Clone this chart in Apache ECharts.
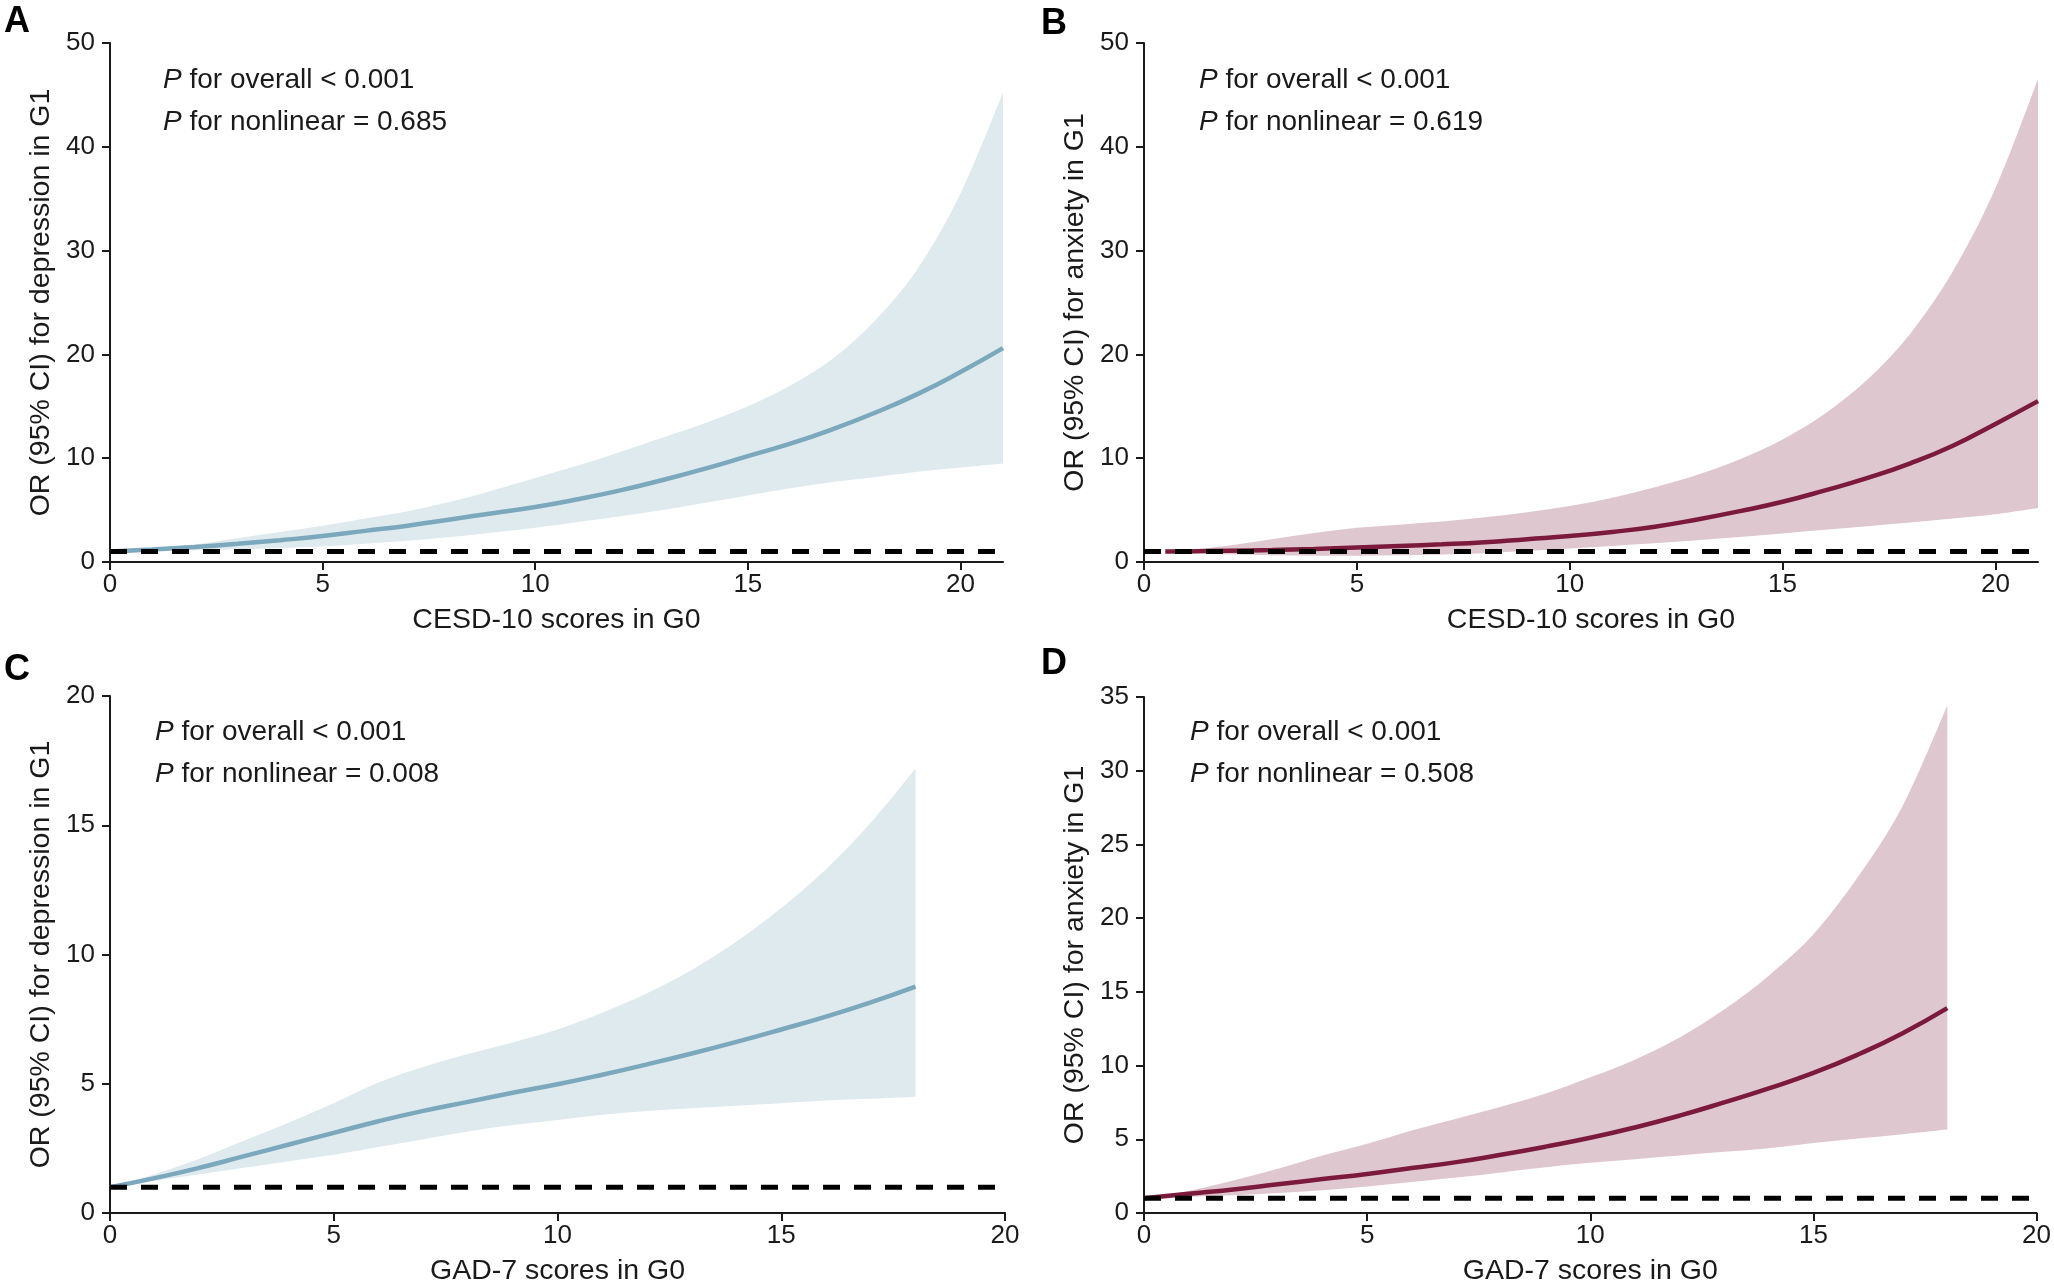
<!DOCTYPE html>
<html><head><meta charset="utf-8">
<script src="https://cdn.jsdelivr.net/npm/echarts@6/dist/echarts.min.js"></script>
<style>html,body{margin:0;padding:0;background:#fff}#c{width:2054px;height:1287px}</style>
</head><body><div id="c"></div>
<script>
// ---------- data ----------
const xCesdA = [0,1,2,3,4,5,6,7,8,9,10,11,12,13,14,15,16,17,18,19,20,21];
const lineA = [1.0,1.2,1.45,1.75,2.1,2.5,3.0,3.5,4.1,4.7,5.3,6.05,6.9,7.9,9.0,10.2,11.4,12.8,14.4,16.2,18.3,20.6];
const upA   = [1.0,1.3,1.7,2.3,2.9,3.5,4.2,4.9,5.8,6.9,8.1,9.3,10.6,12.0,13.4,15.0,17.0,19.6,23.3,28.3,35.5,45.2];
const loA   = [1.0,1.05,1.12,1.22,1.35,1.5,1.75,2.05,2.4,2.85,3.3,3.85,4.4,5.0,5.7,6.4,7.1,7.7,8.2,8.7,9.1,9.5];

const xCesdB = [0.5,1,2,3,4,5,6,7,8,9,10,11,12,13,14,15,16,17,18,19,20,21];
const lineB = [1.0,1.02,1.08,1.15,1.25,1.4,1.55,1.7,1.9,2.2,2.5,2.9,3.4,4.1,4.9,5.8,6.9,8.1,9.5,11.2,13.3,15.5];
const upB   = [1.0,1.15,1.6,2.2,2.8,3.3,3.6,3.9,4.3,4.8,5.4,6.2,7.2,8.4,9.9,11.8,14.3,17.6,22.0,28.0,36.0,46.5];
const loB   = [1.0,0.9,0.75,0.65,0.6,0.6,0.65,0.72,0.85,1.05,1.3,1.55,1.8,2.1,2.4,2.75,3.1,3.45,3.8,4.2,4.6,5.2];

const xGad = [0,1,2,3,4,5,6,7,8,9,10,11,12,13,14,15,16,17,18];
const lineC = [1.0,1.35,1.75,2.2,2.65,3.1,3.55,3.95,4.3,4.65,4.98,5.35,5.75,6.17,6.62,7.1,7.6,8.15,8.76];
const upC   = [1.0,1.5,2.1,2.8,3.5,4.25,5.05,5.65,6.15,6.6,7.1,7.75,8.5,9.4,10.5,11.8,13.3,15.1,17.2];
const loC   = [1.0,1.25,1.5,1.75,2.0,2.25,2.55,2.85,3.15,3.4,3.6,3.8,3.95,4.05,4.15,4.25,4.35,4.42,4.5];

const lineD = [1.0,1.3,1.6,1.95,2.3,2.65,3.05,3.45,3.95,4.5,5.1,5.8,6.6,7.5,8.45,9.5,10.75,12.2,13.9];
const upD   = [1.0,1.5,2.2,3.0,3.9,4.7,5.6,6.4,7.2,8.1,9.2,10.4,11.9,13.8,16.1,18.9,22.8,27.6,34.4];
const loD   = [1.0,1.1,1.2,1.35,1.55,1.8,2.1,2.4,2.75,3.1,3.4,3.65,3.9,4.15,4.4,4.75,5.05,5.35,5.67];

const refOR = 1;
const xMaxCesd = 21, xMaxGad = 20;
const xTicks = [0,5,10,15,20];
const yMaxAB = 50, yStepAB = 10;
const yMaxC = 20, yStepC = 5;
const yMaxD = 35, yStepD = 5;

const xNames = ['CESD-10 scores in G0','CESD-10 scores in G0','GAD-7 scores in G0','GAD-7 scores in G0'];
const yNames = ['OR (95% CI) for depression in G1','OR (95% CI) for anxiety in G1','OR (95% CI) for depression in G1','OR (95% CI) for anxiety in G1'];
const panelLetters = ['A','B','C','D'];
const pOverall = ['< 0.001','< 0.001','< 0.001','< 0.001'];
const pNonlinear = ['= 0.685','= 0.619','= 0.008','= 0.508'];

// ---------- styling ----------
const FF = 'Liberation Sans, Arial, Helvetica, sans-serif';
const AX = '#1a1a1a';
const BLUE = '#7ba8bc', BLUE_BAND = '#dfeaee';
const RED = '#7c1a3d', RED_BAND = '#dfc7cf';

const panels = [
  {xs: xCesdA, line: lineA, up: upA, lo: loA, xMax: xMaxCesd, yMax: yMaxAB, yStep: yStepAB, c: BLUE, band: BLUE_BAND},
  {xs: xCesdB, line: lineB, up: upB, lo: loB, xMax: xMaxCesd, yMax: yMaxAB, yStep: yStepAB, c: RED, band: RED_BAND},
  {xs: xGad, line: lineC, up: upC, lo: loC, xMax: xMaxGad, yMax: yMaxC, yStep: yStepC, c: BLUE, band: BLUE_BAND},
  {xs: xGad, line: lineD, up: upD, lo: loD, xMax: xMaxGad, yMax: yMaxD, yStep: yStepD, c: RED, band: RED_BAND}
];

const grids = [
  {left: 110, top: 43, width: 893, height: 519},
  {left: 1144, top: 43, width: 894, height: 519},
  {left: 110, top: 696, width: 895, height: 519},
  {left: 1144, top: 697, width: 893, height: 518}
];

// Catmull-Rom style smoothing of already-projected pixel points
function curveTo(pts) {
  let d = '';
  const n = pts.length;
  for (let i = 0; i < n - 1; i++) {
    const p0 = pts[Math.max(i - 1, 0)], p1 = pts[i], p2 = pts[i + 1], p3 = pts[Math.min(i + 2, n - 1)];
    const c1x = p1[0] + (p2[0] - p0[0]) / 6, c1y = p1[1] + (p2[1] - p0[1]) / 6;
    const c2x = p2[0] - (p3[0] - p1[0]) / 6, c2y = p2[1] - (p3[1] - p1[1]) / 6;
    d += ' C' + c1x + ' ' + c1y + ' ' + c2x + ' ' + c2y + ' ' + p2[0] + ' ' + p2[1];
  }
  return d;
}

const xAxes = [], yAxes = [], series = [], graphics = [];
panels.forEach((p, i) => {
  xAxes.push({
    type: 'value', gridIndex: i, min: 0, max: p.xMax,
    axisLine: {show: true, onZero: false, lineStyle: {color: AX, width: 2}},
    axisTick: {show: true, length: 8, lineStyle: {color: AX, width: 2}, customValues: xTicks},
    axisLabel: {customValues: xTicks, fontSize: 26, color: AX, fontFamily: FF, margin: 10},
    splitLine: {show: false},
    name: xNames[i], nameLocation: 'middle', nameGap: 44,
    nameTextStyle: {fontSize: 28.5, color: AX, fontFamily: FF}
  });
  yAxes.push({
    type: 'value', gridIndex: i, min: 0, max: p.yMax, interval: p.yStep,
    axisLine: {show: true, onZero: false, lineStyle: {color: AX, width: 2}},
    axisTick: {show: true, length: 8, lineStyle: {color: AX, width: 2}},
    axisLabel: {fontSize: 26, color: AX, fontFamily: FF, margin: 15},
    splitLine: {show: false},
    name: yNames[i], nameLocation: 'middle', nameGap: 54,
    nameTextStyle: {fontSize: 28.5, color: AX, fontFamily: FF}
  });
  const xs = p.xs, lo = p.lo, up = p.up, band = p.band;
  series.push({
    type: 'custom', xAxisIndex: i, yAxisIndex: i, z: 1, silent: true,
    data: xs.map((x, k) => [x, lo[k], up[k]]),
    encode: {x: 0, y: [1, 2]},
    renderItem: function (params, api) {
      if (params.dataIndex !== 0) return null;
      const top = [], bot = [];
      for (let k = 0; k < xs.length; k++) top.push(api.coord([xs[k], up[k]]));
      for (let k = xs.length - 1; k >= 0; k--) bot.push(api.coord([xs[k], lo[k]]));
      const d = 'M' + top[0][0] + ' ' + top[0][1] + curveTo(top) +
        ' L' + bot[0][0] + ' ' + bot[0][1] + curveTo(bot) + ' Z';
      return {type: 'path', shape: {pathData: d}, style: {fill: band, stroke: null}};
    }
  });
  series.push({
    type: 'line', xAxisIndex: i, yAxisIndex: i, z: 3, silent: true,
    data: xs.map((x, k) => [x, p.line[k]]),
    smooth: 0.5, symbol: 'none',
    lineStyle: {color: p.c, width: 4.5}
  });
  series.push({
    type: 'line', xAxisIndex: i, yAxisIndex: i, z: 4, silent: true,
    data: [[0, refOR], [p.xMax, refOR]], symbol: 'none',
    lineStyle: {color: '#000', width: 5, type: [17, 14]}
  });
});

const letterPos = [[4, 4], [1041, 6], [4, 652], [1041, 646]];
const textPos = [[163, 80, 122], [1199, 80, 122], [155, 732, 774], [1190, 732, 774]];
const FS = 28;
panels.forEach((p, i) => {
  graphics.push({type: 'text', x: letterPos[i][0], y: letterPos[i][1],
    style: {text: panelLetters[i], fill: '#000', font: 'bold 36px ' + FF}});
  const rich = {i: {fontStyle: 'italic', fontSize: FS, fontFamily: FF, fill: AX}, n: {fontSize: FS, fontFamily: FF, fill: AX}};
  graphics.push({type: 'text', x: textPos[i][0], y: textPos[i][1],
    style: {text: '{i|P}{n| for overall ' + pOverall[i] + '}', rich: rich, verticalAlign: 'middle', fontSize: FS, fontFamily: FF}});
  graphics.push({type: 'text', x: textPos[i][0], y: textPos[i][2],
    style: {text: '{i|P}{n| for nonlinear ' + pNonlinear[i] + '}', rich: rich, verticalAlign: 'middle', fontSize: FS, fontFamily: FF}});
});

const chart = echarts.init(document.getElementById('c'), null, {renderer: 'canvas'});
chart.setOption({
  animation: false,
  backgroundColor: '#fff',
  grid: grids,
  xAxis: xAxes,
  yAxis: yAxes,
  series: series,
  graphic: graphics
});
</script>
</body></html>
